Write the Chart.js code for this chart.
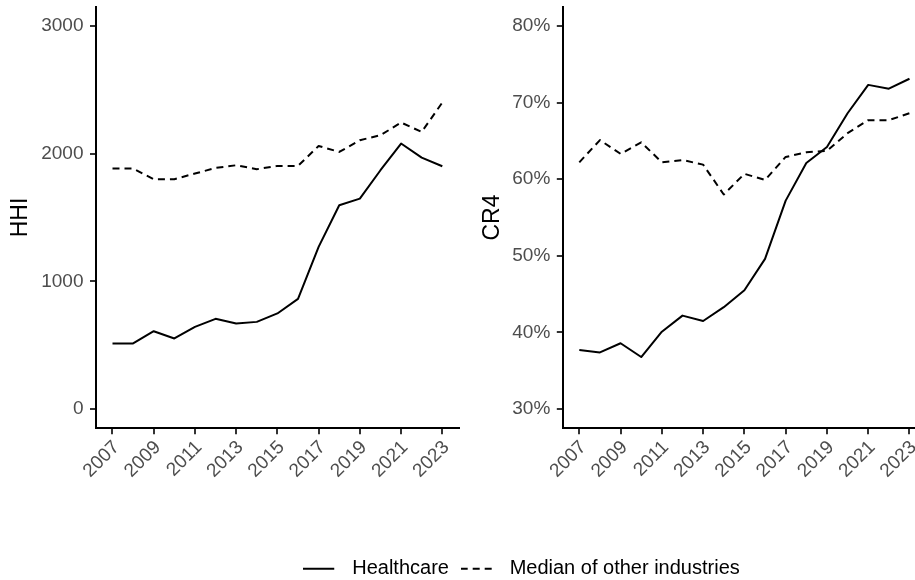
<!DOCTYPE html>
<html>
<head>
<meta charset="utf-8">
<title>Market concentration: HHI and CR4</title>
<script src="https://cdn.jsdelivr.net/npm/chart.js@4.4.1/dist/chart.umd.min.js"></script>
<style>
  html, body { margin: 0; padding: 0; background: #ffffff; }
  #fig { position: relative; width: 915px; height: 580px; overflow: hidden; background: #ffffff; }
  #fig canvas { position: absolute; }
</style>
</head>
<body>
<div id="fig">
  <canvas id="hhiChart" width="470" height="500" style="left:0px;top:0px"></canvas>
  <canvas id="cr4Chart" width="480" height="500" style="left:460px;top:0px"></canvas>
  <canvas id="legendChart" width="1053" height="100" style="left:-5px;top:547px"></canvas>
</div>
<script>
// ---- data ----
const years = [2007, 2008, 2009, 2010, 2011, 2012, 2013, 2014, 2015, 2016, 2017, 2018, 2019, 2020, 2021, 2022, 2023];

const hhiHealthcare = [514, 514, 610, 553, 644, 707, 670, 683, 749, 863, 1270, 1596, 1648, 1870, 2079, 1969, 1901];
const hhiOther      = [1883, 1883, 1800, 1800, 1844, 1888, 1909, 1878, 1904, 1904, 2060, 2013, 2105, 2144, 2243, 2170, 2400];

const cr4Healthcare = [37.7, 37.4, 38.6, 36.8, 40.1, 42.2, 41.5, 43.3, 45.5, 49.6, 57.2, 62.1, 64.2, 68.6, 72.3, 71.8, 73.1];
const cr4Other      = [62.2, 65.1, 63.3, 64.8, 62.2, 62.5, 61.9, 58.0, 60.7, 59.9, 62.9, 63.5, 63.7, 66.0, 67.7, 67.7, 68.6];

const yearTicks = [2007, 2009, 2011, 2013, 2015, 2017, 2019, 2021, 2023];
const hhiTicks = [0, 1000, 2000, 3000];
const cr4Ticks = [30, 40, 50, 60, 70, 80];

const seriesNames = ['Healthcare', 'Median of other industries'];

// ---- styling ----
const FONT = '"Liberation Sans", Arial, Helvetica, sans-serif';
const TICK_COLOR = '#4D4D4D';
const TICK_MARK = '#333333';
const DASH = [7, 5];
const seriesDash = [[], DASH];

Chart.defaults.font.family = FONT;
Chart.defaults.animation = false;

function toPoints(values) {
  return years.map((yr, i) => ({ x: yr, y: values[i] }));
}

function lineDataset(label, values, dash) {
  return {
    label: label,
    data: toPoints(values),
    borderColor: '#000000',
    backgroundColor: '#000000',
    borderWidth: 2,
    borderDash: dash,
    borderCapStyle: 'butt',
    borderJoinStyle: 'round',
    pointRadius: 0,
    pointHoverRadius: 0,
    tension: 0,
    fill: false
  };
}

// one panel: axis lines with outward ticks, no grid
function panelOptions(o) {
  return {
    responsive: false,
    animation: false,
    events: [],
    layout: { autoPadding: false, padding: { left: 0, top: 6.7, right: o.padRight, bottom: 0 } },
    plugins: { legend: { display: false }, tooltip: { enabled: false } },
    scales: {
      x: {
        type: 'linear',
        min: 2006.2,
        max: 2023.8,
        bounds: 'data',
        afterBuildTicks: s => { s.ticks = yearTicks.map(v => ({ value: v })); },
        afterFit: s => { s.height = o.xAxisHeight; s.paddingLeft = 0; s.paddingRight = 0; },
        ticks: {
          autoSkip: false,
          minRotation: 45,
          maxRotation: 45,
          padding: 2,
          labelOffset: 4,
          color: TICK_COLOR,
          font: { family: FONT, size: 19 },
          callback: v => String(v)
        },
        grid: { display: true, drawOnChartArea: false, drawTicks: true, tickLength: 6, color: TICK_MARK, lineWidth: 2 },
        border: { display: true, color: '#000000', width: 2 }
      },
      y: {
        type: 'linear',
        min: o.yMin,
        max: o.yMax,
        bounds: 'data',
        afterBuildTicks: s => { s.ticks = o.yTicks.map(v => ({ value: v })); },
        afterFit: s => { s.width = o.yAxisWidth; s.paddingTop = 0; s.paddingBottom = 0; },
        ticks: {
          padding: 6.5,
          color: TICK_COLOR,
          font: { family: FONT, size: 19 },
          callback: o.tickFormat
        },
        grid: { display: true, drawOnChartArea: false, drawTicks: true, tickLength: 6, color: TICK_MARK, lineWidth: 2 },
        border: { display: true, color: '#000000', width: 2 },
        title: {
          display: true,
          text: o.title,
          color: '#000000',
          font: { family: FONT, size: 23 },
          padding: { top: o.titlePad, bottom: 0 }
        }
      }
    }
  };
}

// HHI panel
new Chart(document.getElementById('hhiChart'), {
  type: 'line',
  data: {
    datasets: [
      lineDataset(seriesNames[0], hhiHealthcare, seriesDash[0]),
      lineDataset(seriesNames[1], hhiOther, seriesDash[1])
    ]
  },
  options: panelOptions({
    title: 'HHI',
    titlePad: 7.2,
    yMin: -150, yMax: 3150,
    yTicks: hhiTicks,
    tickFormat: v => String(v),
    yAxisWidth: 96,
    padRight: 11.2,
    xAxisHeight: 71.7
  })
});

// CR4 panel
new Chart(document.getElementById('cr4Chart'), {
  type: 'line',
  data: {
    datasets: [
      lineDataset(seriesNames[0], cr4Healthcare, seriesDash[0]),
      lineDataset(seriesNames[1], cr4Other, seriesDash[1])
    ]
  },
  options: panelOptions({
    title: 'CR4',
    titlePad: 19,
    yMin: 27.5, yMax: 82.5,
    yTicks: cr4Ticks,
    tickFormat: v => v + '%',
    yAxisWidth: 102.8,
    padRight: 14,
    xAxisHeight: 71.7
  })
});

// legend key glyphs: a short line segment followed by blank space before the label
function keyGlyph(dash) {
  const c = document.createElement('canvas');
  c.width = 39;
  c.height = 4;
  const g = c.getContext('2d');
  g.strokeStyle = '#000000';
  g.lineWidth = 2;
  g.lineCap = 'butt';
  g.setLineDash(dash);
  g.beginPath();
  g.moveTo(0, 2);
  g.lineTo(31, 2);
  g.stroke();
  return c;
}
const glyphs = seriesDash.map(keyGlyph);

// shared legend below both panels
new Chart(document.getElementById('legendChart'), {
  type: 'line',
  data: {
    datasets: seriesNames.map((name, i) => ({
      label: name,
      data: [],
      borderColor: '#000000',
      backgroundColor: '#000000',
      borderWidth: 2,
      borderDash: seriesDash[i]
    }))
  },
  options: {
    responsive: false,
    animation: false,
    events: [],
    layout: { padding: 0 },
    scales: { x: { display: false }, y: { display: false } },
    plugins: {
      tooltip: { enabled: false },
      legend: {
        display: true,
        position: 'top',
        align: 'center',
        labels: {
          color: '#000000',
          font: { family: FONT, size: 20 },
          usePointStyle: true,
          pointStyleWidth: 39,
          padding: 11.7,
          generateLabels: chart => {
            const items = Chart.defaults.plugins.legend.labels.generateLabels(chart);
            items.forEach((it, i) => { it.pointStyle = glyphs[i]; });
            return items;
          }
        }
      }
    }
  }
});
</script>
</body>
</html>
